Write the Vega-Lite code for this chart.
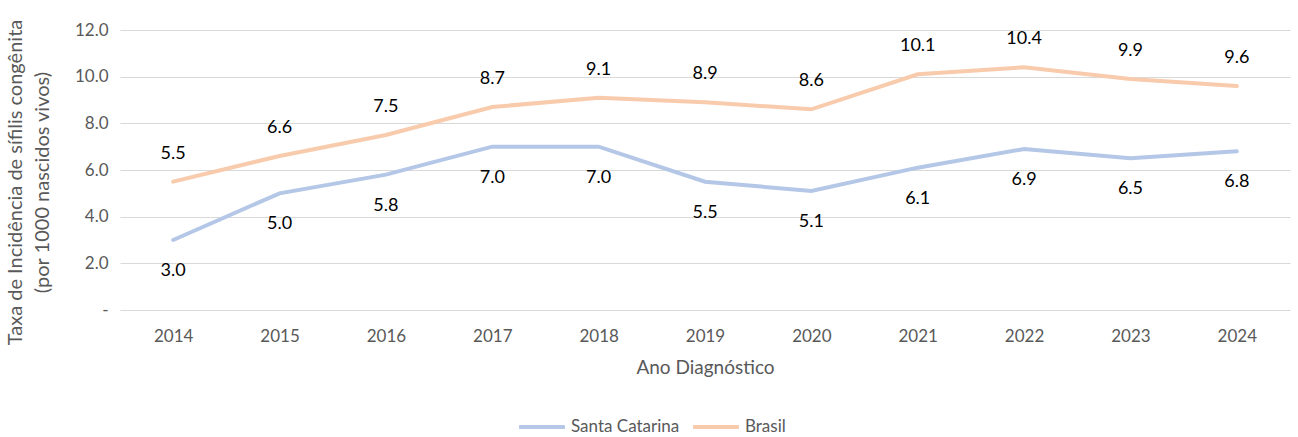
{
  "$schema": "https://vega.github.io/schema/vega-lite/v6.json",
  "width": 1170,
  "height": 280,
  "autosize": "none",
  "padding": {"left": 120, "top": 30, "right": 8, "bottom": 127},
  "config": {
    "view": {"stroke": null},
    "font": "Lato"
  },
  "data": {
    "values": [
      {"ano": "2014", "serie": "Santa Catarina", "taxa": 3.0},
      {"ano": "2015", "serie": "Santa Catarina", "taxa": 5.0},
      {"ano": "2016", "serie": "Santa Catarina", "taxa": 5.8},
      {"ano": "2017", "serie": "Santa Catarina", "taxa": 7.0},
      {"ano": "2018", "serie": "Santa Catarina", "taxa": 7.0},
      {"ano": "2019", "serie": "Santa Catarina", "taxa": 5.5},
      {"ano": "2020", "serie": "Santa Catarina", "taxa": 5.1},
      {"ano": "2021", "serie": "Santa Catarina", "taxa": 6.1},
      {"ano": "2022", "serie": "Santa Catarina", "taxa": 6.9},
      {"ano": "2023", "serie": "Santa Catarina", "taxa": 6.5},
      {"ano": "2024", "serie": "Santa Catarina", "taxa": 6.8},
      {"ano": "2014", "serie": "Brasil", "taxa": 5.5},
      {"ano": "2015", "serie": "Brasil", "taxa": 6.6},
      {"ano": "2016", "serie": "Brasil", "taxa": 7.5},
      {"ano": "2017", "serie": "Brasil", "taxa": 8.7},
      {"ano": "2018", "serie": "Brasil", "taxa": 9.1},
      {"ano": "2019", "serie": "Brasil", "taxa": 8.9},
      {"ano": "2020", "serie": "Brasil", "taxa": 8.6},
      {"ano": "2021", "serie": "Brasil", "taxa": 10.1},
      {"ano": "2022", "serie": "Brasil", "taxa": 10.4},
      {"ano": "2023", "serie": "Brasil", "taxa": 9.9},
      {"ano": "2024", "serie": "Brasil", "taxa": 9.6}
    ]
  },
  "encoding": {
    "x": {
      "field": "ano",
      "type": "ordinal",
      "scale": {"type": "point", "padding": 0.5},
      "axis": {
        "title": "Ano Diagnóstico",
        "titleFont": "Lato",
        "titleFontSize": 19,
        "titleFontWeight": "normal",
        "titleColor": "#595959",
        "titlePadding": 14,
        "labelAngle": 0,
        "labelFontSize": 17,
        "labelColor": "#595959",
        "labelPadding": 18,
        "ticks": false,
        "domain": false,
        "grid": false
      }
    },
    "y": {
      "field": "taxa",
      "type": "quantitative",
      "scale": {"domain": [0, 12], "nice": false},
      "axis": {
        "values": [0, 2, 4, 6, 8, 10, 12],
        "labelExpr": "datum.value == 0 ? '-' : format(datum.value, '.1f')",
        "title": ["Taxa de Incidência de sífilis congênita", "(por 1000 nascidos vivos)"],
        "titleFont": "Lato",
        "titleFontSize": 20,
        "titleFontWeight": "normal",
        "titleColor": "#595959",
        "titlePadding": 22,
        "titleLineHeight": 27,
        "titleY": 152,
        "labelFontSize": 17,
        "labelColor": "#595959",
        "labelPadding": 12,
        "ticks": false,
        "domain": false,
        "grid": true,
        "gridColor": "#d9d9d9",
        "gridWidth": 1
      }
    },
    "color": {
      "field": "serie",
      "type": "nominal",
      "scale": {"domain": ["Santa Catarina", "Brasil"], "range": ["#B4C7E7", "#F8CBAD"]},
      "legend": {
        "title": null,
        "orient": "none",
        "direction": "horizontal",
        "legendX": 397,
        "legendY": 372,
        "padding": 0,
        "symbolType": "stroke",
        "symbolStrokeWidth": 4,
        "symbolSize": 2100,
        "labelFontSize": 17,
        "labelColor": "#595959",
        "columnPadding": 5,
        "labelOffset": 4
      }
    }
  },
  "layer": [
    {
      "mark": {"type": "line", "strokeWidth": 4, "strokeCap": "round"}
    },
    {
      "transform": [{"filter": "datum.serie == 'Brasil'"}],
      "mark": {"type": "text", "dy": -28, "fontSize": 18, "color": "#000000", "font": "Lato"},
      "encoding": {
        "text": {"field": "taxa", "type": "quantitative", "format": ".1f"},
        "color": {"value": "#000000"}
      }
    },
    {
      "transform": [{"filter": "datum.serie == 'Santa Catarina'"}],
      "mark": {"type": "text", "dy": 31, "fontSize": 18, "color": "#000000", "font": "Lato"},
      "encoding": {
        "text": {"field": "taxa", "type": "quantitative", "format": ".1f"},
        "color": {"value": "#000000"}
      }
    }
  ]
}
